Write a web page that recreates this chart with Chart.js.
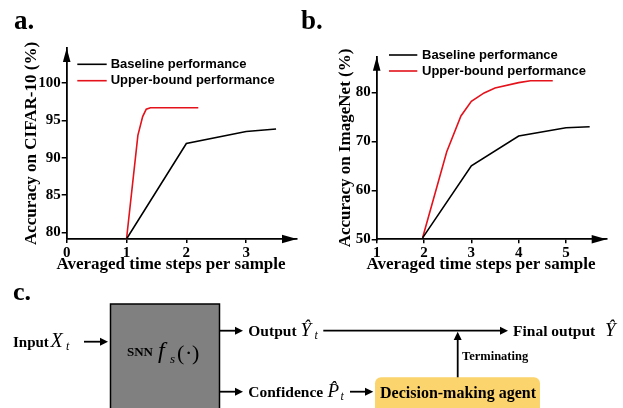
<!DOCTYPE html>
<html>
<head>
<meta charset="utf-8">
<script src="https://cdn.jsdelivr.net/npm/chart.js@4.4.1/dist/chart.umd.min.js"></script>
<style>
    body { margin: 0; background: #fff; }
    #page { position: relative; width: 623px; height: 408px; overflow: hidden; }
    #chart-a { position: absolute; left: 0; top: 0; }
    #chart-b { position: absolute; left: 310px; top: 0; }
    #overlay { position: absolute; left: 0; top: 0; }
    #overlay text { font-family: 'Liberation Serif', 'Times New Roman', serif; fill: #000; }
    #overlay .b { font-weight: bold; }
    #overlay .i { font-style: italic; }
</style>
</head>
<body>
<div id="page">
    <canvas id="chart-a" width="310" height="280"></canvas>
    <canvas id="chart-b" width="313" height="280"></canvas>
    <svg id="overlay" width="623" height="408">
        <text class="b" x="14" y="28.5" font-size="27">a.</text>
        <text class="b" x="301" y="28.5" font-size="27">b.</text>
        <text class="b" x="13" y="299.5" font-size="26">c.</text>

        <!-- input -->
        <text class="b" x="13" y="346.7" font-size="15">Input</text>
        <text class="i" x="50.5" y="346.7" font-size="20">X</text>
        <text class="i" x="66" y="350" font-size="12">t</text>
        <line x1="84" y1="341.7" x2="101" y2="341.7" stroke="#000" stroke-width="1.8"/>
        <polygon points="100,337.7 108,341.7 100,345.7" fill="#000"/>

        <!-- SNN block -->
        <rect x="110.5" y="304" width="109" height="120" fill="#808080" stroke="#000" stroke-width="1.5"/>
        <text class="b" x="127" y="356" font-size="13">SNN</text>
        <text class="i" x="158" y="358" font-size="24">f</text>
        <text class="i" x="170" y="363" font-size="13">s</text>
        <text x="177" y="360" font-size="22">(</text>
        <text x="185" y="360" font-size="22">·</text>
        <text x="192" y="360" font-size="22">)</text>

        <!-- output branch -->
        <line x1="219" y1="330.7" x2="236" y2="330.7" stroke="#000" stroke-width="1.8"/>
        <polygon points="235,326.7 243,330.7 235,334.7" fill="#000"/>
        <text class="b" x="248.3" y="336" font-size="15.5">Output</text>
        <text class="i" x="300.5" y="336" font-size="19">Ŷ</text>
        <text class="i" x="314.5" y="339" font-size="12">t</text>
        <line x1="323.3" y1="330.7" x2="501" y2="330.7" stroke="#000" stroke-width="1.8"/>
        <polygon points="500,326.7 508,330.7 500,334.7" fill="#000"/>
        <text class="b" x="513" y="336" font-size="15.5">Final output</text>
        <text class="i" x="605" y="336" font-size="19">Ŷ</text>

        <!-- terminating -->
        <line x1="457.7" y1="378" x2="457.7" y2="339" stroke="#000" stroke-width="1.8"/>
        <polygon points="453.7,340 457.7,331.8 461.7,340" fill="#000"/>
        <text class="b" x="462" y="360" font-size="12.5">Terminating</text>

        <!-- confidence branch -->
        <line x1="219" y1="391.7" x2="236" y2="391.7" stroke="#000" stroke-width="1.8"/>
        <polygon points="235,387.7 243,391.7 235,395.7" fill="#000"/>
        <text class="b" x="248.3" y="396.7" font-size="15.5">Confidence</text>
        <text class="i" x="327.5" y="396.7" font-size="19">P̂</text>
        <text class="i" x="340.5" y="399.5" font-size="12">t</text>
        <line x1="350" y1="391.7" x2="366" y2="391.7" stroke="#000" stroke-width="1.8"/>
        <polygon points="365,387.7 373.3,391.7 365,395.7" fill="#000"/>
        <rect x="375" y="377.3" width="165" height="40" rx="6" fill="#fbd46d"/>
        <text class="b" x="380" y="398" font-size="16">Decision-making agent</text>
    </svg>
</div>
<script>
var cifarXTicks = [0, 1, 2, 3];
var cifarYTicks = [80, 85, 90, 95, 100];
var cifarBaselineX = [1, 2, 3, 3.5];
var cifarBaselineY = [79.1, 91.9, 93.5, 93.85];
var cifarUpperX = [1, 1.19, 1.27, 1.33, 1.4, 2.2];
var cifarUpperY = [79.1, 93.0, 95.5, 96.5, 96.7, 96.7];

var imagenetXTicks = [1, 2, 3, 4, 5];
var imagenetYTicks = [50, 60, 70, 80];
var imagenetBaselineX = [1.97, 3, 4, 5, 5.5];
var imagenetBaselineY = [50.3, 65.0, 71.1, 72.8, 73.0];
var imagenetUpperX = [1.97, 2.48, 2.78, 3, 3.27, 3.5, 4, 4.25, 4.72];
var imagenetUpperY = [50.3, 67.9, 75.2, 78.2, 79.9, 80.9, 82.0, 82.4, 82.4];

var seriesNames = ['Baseline performance', 'Upper-bound performance'];
var seriesColors = ['#000000', '#e3121b'];
var xAxisTitle = 'Averaged time steps per sample';

function toPoints(xs, ys) {
    return xs.map(function (x, i) {
        return { x: x, y: ys[i] };
    });
}

// arrow heads on the axes, x title and legend drawn inside the plot
var axisDecor = {
    id: 'axisDecor',
    afterDraw: function (chart, args, opts) {
        var a = chart.chartArea;
        var ctx = chart.ctx;
        ctx.save();
        ctx.fillStyle = '#000';
        ctx.beginPath();
        ctx.moveTo(a.right, a.bottom);
        ctx.lineTo(a.right - 15, a.bottom - 4.2);
        ctx.lineTo(a.right - 15, a.bottom + 4.2);
        ctx.closePath();
        ctx.fill();
        ctx.beginPath();
        ctx.moveTo(a.left, a.top);
        ctx.lineTo(a.left - 3.8, a.top + 14);
        ctx.lineTo(a.left + 3.8, a.top + 14);
        ctx.closePath();
        ctx.fill();

        ctx.font = 'bold 17px "Liberation Serif", "Times New Roman", serif';
        ctx.textAlign = 'center';
        ctx.textBaseline = 'alphabetic';
        ctx.fillText(xAxisTitle, opts.titleX, opts.titleY);

        ctx.font = 'bold 13px "Liberation Sans", Arial, sans-serif';
        ctx.textAlign = 'left';
        ctx.textBaseline = 'middle';
        chart.data.datasets.forEach(function (ds, i) {
            var y = opts.y + i * opts.gap;
            ctx.strokeStyle = ds.borderColor;
            ctx.lineWidth = 1.6;
            ctx.beginPath();
            ctx.moveTo(opts.x0, y);
            ctx.lineTo(opts.x1, y);
            ctx.stroke();
            ctx.fillStyle = '#000';
            ctx.fillText(ds.label, opts.textX, y);
        });
        ctx.restore();
    }
};

function makeChart(id, cfg) {
    var tickFont = { family: '"Liberation Serif", "Times New Roman", serif', weight: 'bold', size: 15 };
    var titleFont = { family: '"Liberation Serif", "Times New Roman", serif', weight: 'bold', size: 17 };
    return new Chart(document.getElementById(id), {
        type: 'line',
        data: {
            datasets: [
                { label: seriesNames[0], data: cfg.baseline, borderColor: seriesColors[0], borderWidth: 1.6, pointRadius: 0, tension: 0 },
                { label: seriesNames[1], data: cfg.upper, borderColor: seriesColors[1], borderWidth: 1.6, pointRadius: 0, tension: 0 }
            ]
        },
        options: {
            responsive: false,
            animation: false,
            devicePixelRatio: 1,
            layout: { padding: { left: 0, right: cfg.padRight, top: cfg.padTop, bottom: 0 } },
            plugins: {
                legend: { display: false },
                tooltip: { enabled: false },
                axisDecor: cfg.legend
            },
            scales: {
                x: {
                    type: 'linear',
                    min: cfg.xMin,
                    max: cfg.xMax,
                    afterBuildTicks: function (s) { s.ticks = cfg.xTicks.map(function (v) { return { value: v }; }); },
                    afterFit: function (s) { s.height = cfg.xHeight; },
                    border: { color: '#000', width: 1.8 },
                    grid: { drawOnChartArea: false, drawTicks: true, tickLength: 4, color: '#000', lineWidth: 1.5 },
                    ticks: { color: '#000', font: tickFont, padding: 1, maxRotation: 0 }
                },
                y: {
                    type: 'linear',
                    min: cfg.yMin,
                    max: cfg.yMax,
                    afterBuildTicks: function (s) { s.ticks = cfg.yTicks.map(function (v) { return { value: v }; }); },
                    afterFit: function (s) { s.width = 66.7; },
                    border: { color: '#000', width: 1.8 },
                    grid: { drawOnChartArea: false, drawTicks: true, tickLength: 5, color: '#000', lineWidth: 1.5 },
                    ticks: { color: '#000', font: tickFont, padding: 1 },
                    title: { display: true, text: cfg.yTitle, color: '#000', font: titleFont, padding: { top: cfg.yTitlePad, bottom: 0 } }
                }
            }
        },
        plugins: [axisDecor]
    });
}

makeChart('chart-a', {
    baseline: toPoints(cifarBaselineX, cifarBaselineY),
    upper: toPoints(cifarUpperX, cifarUpperY),
    xMin: 0, xMax: 3.85, yMin: 79.1, yMax: 104.7,
    xTicks: cifarXTicks, yTicks: cifarYTicks,
    yTitle: 'Accuracy on CIFAR-10 (%)',
    padRight: 13, padTop: 48, xHeight: 41, yTitlePad: 21,
    legend: { x0: 77.3, x1: 106.7, textX: 110.7, y: 64.3, gap: 16.4, titleX: 171, titleY: 268.5 }
});

makeChart('chart-b', {
    baseline: toPoints(imagenetBaselineX, imagenetBaselineY),
    upper: toPoints(imagenetUpperX, imagenetUpperY),
    xMin: 1, xMax: 5.86, yMin: 50, yMax: 87.3,
    xTicks: imagenetXTicks, yTicks: imagenetYTicks,
    yTitle: 'Accuracy on ImageNet (%)',
    padRight: 16.3, padTop: 56.7, xHeight: 40.7, yTitlePad: 25,
    legend: { x0: 79, x1: 107.3, textX: 112, y: 55, gap: 16, titleX: 171, titleY: 268.5 }
});
</script>
</body>
</html>
